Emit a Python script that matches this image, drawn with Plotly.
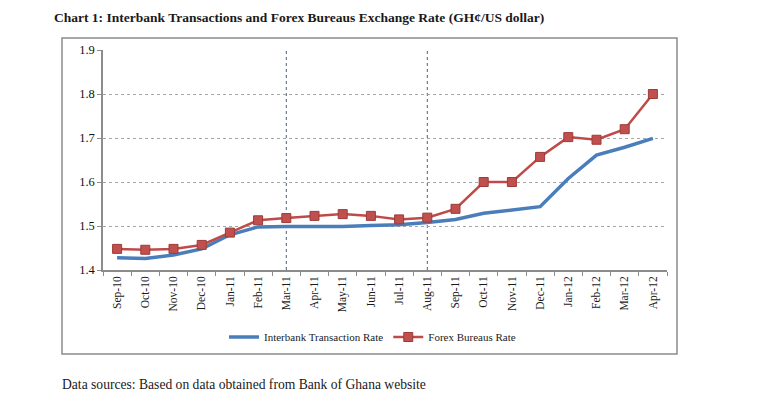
import plotly.graph_objects as go

months = ["Sep-10", "Oct-10", "Nov-10", "Dec-10", "Jan-11", "Feb-11", "Mar-11", "Apr-11",
          "May-11", "Jun-11", "Jul-11", "Aug-11", "Sep-11", "Oct-11", "Nov-11", "Dec-11",
          "Jan-12", "Feb-12", "Mar-12", "Apr-12"]
interbank = [1.428, 1.426, 1.434, 1.448, 1.480, 1.498, 1.499, 1.499, 1.499, 1.501,
             1.503, 1.508, 1.515, 1.529, 1.536, 1.544, 1.608, 1.661, 1.679, 1.699]
forex = [1.448, 1.446, 1.448, 1.457, 1.485, 1.513, 1.518, 1.523, 1.527, 1.523,
         1.515, 1.519, 1.539, 1.600, 1.600, 1.657, 1.702, 1.696, 1.720, 1.800]
marker_months = ["Mar-11", "Aug-11"]
y_ticks = [1.4, 1.5, 1.6, 1.7, 1.8, 1.9]

SERIF = "Liberation Serif"
W, H = 770, 402
L, R, T, B = 103, 667, 50, 270

def px(x):
    return (x - L) / (R - L)

def py(y):
    return (B - y) / (B - T)

fig = go.Figure()
fig.add_trace(go.Scatter(
    x=months, y=interbank, mode="lines", name="Interbank Transaction Rate",
    line=dict(color="#4a7ebb", width=3.5)))
fig.add_trace(go.Scatter(
    x=months, y=forex, mode="lines+markers", name="Forex Bureaus Rate",
    line=dict(color="#be4b48", width=2.5),
    marker=dict(symbol="square", size=9, color="#c0504d",
                line=dict(color="#9e3a38", width=1))))

for m in marker_months:
    fig.add_shape(type="line", xref="x", yref="y", x0=m, x1=m, y0=y_ticks[0], y1=y_ticks[-1],
                  line=dict(color="#4f5f7f", width=1, dash="dot"), layer="below")

# outer chart frame
fig.add_shape(type="rect", xref="paper", yref="paper",
              x0=px(62), x1=px(677), y0=py(354), y1=py(38),
              line=dict(color="#8c8c8c", width=1.5))

fig.add_annotation(text="<b>Chart 1: Interbank Transactions and Forex Bureaus Exchange Rate (GH¢/US dollar)</b>",
                   xref="paper", yref="paper", x=px(52), y=py(18), xanchor="left", yanchor="middle",
                   showarrow=False, font=dict(family=SERIF, size=13.5, color="#1a1a1a"))
fig.add_annotation(text="Data sources: Based on data obtained from Bank of Ghana website",
                   xref="paper", yref="paper", x=px(60), y=py(384), xanchor="left", yanchor="middle",
                   showarrow=False, font=dict(family=SERIF, size=13.6, color="#1a1a1a"))

fig.update_layout(
    width=W, height=H,
    margin=dict(l=L, r=W - R, t=T, b=H - B),
    paper_bgcolor="white", plot_bgcolor="white",
    font=dict(family=SERIF, size=11, color="#222"),
    showlegend=True,
    legend=dict(orientation="h", x=px(224), xanchor="left", y=py(337), yanchor="middle",
                font=dict(family=SERIF, size=11, color="#222"), itemwidth=30,
                bgcolor="rgba(0,0,0,0)", tracegroupgap=0),
    xaxis=dict(type="category", categoryorder="array", categoryarray=months,
               range=[-0.5, len(months) - 0.5],
               tickangle=-90, showgrid=False, showline=True, linecolor="#8c8c8c", linewidth=1.5,
               ticks="outside", tickson="boundaries", ticklen=4, tickcolor="#8c8c8c",
               tickfont=dict(family=SERIF, size=11.5, color="#1a1a1a"), zeroline=False, fixedrange=True),
    yaxis=dict(range=[y_ticks[0], y_ticks[-1]], tickvals=y_ticks, tickformat=".1f",
               showgrid=True, gridcolor="#a6a6a6", griddash="dot", gridwidth=1,
               showline=True, linecolor="#8c8c8c", linewidth=1.5,
               ticks="outside", ticklen=4, tickcolor="#8c8c8c",
               tickfont=dict(family=SERIF, size=12.5, color="#111"), zeroline=False, fixedrange=True),
)

fig.write_html("out.html")
